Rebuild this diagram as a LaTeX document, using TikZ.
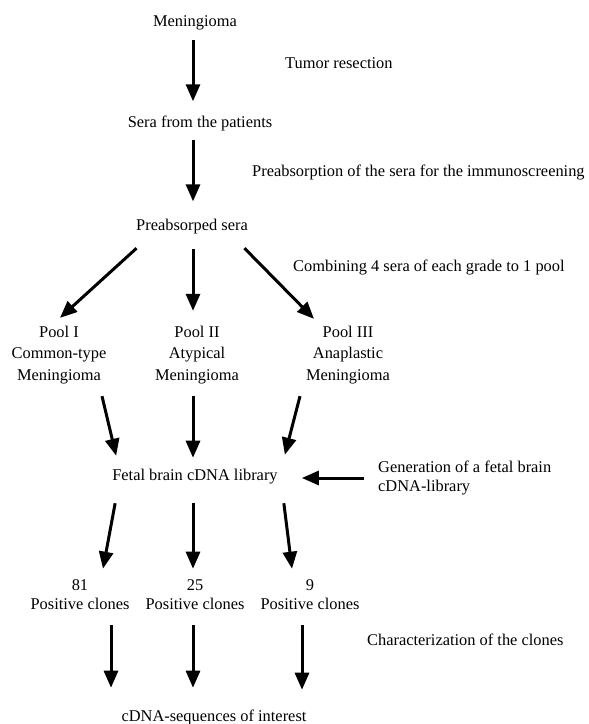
\documentclass[tikz,border=0pt]{standalone}
\usepackage{fontspec}
\setmainfont{Liberation Serif}
\usetikzlibrary{arrows.meta, positioning}

\begin{document}
\begin{tikzpicture}[x=1pt, y=-1pt,
        txt/.style={inner sep=0pt, font=\fontsize{16.4}{19}\selectfont},
        pool/.style={txt, align=center, font=\fontsize{16.4}{21.5}\selectfont},
        clone/.style={txt, align=center},
        note/.style={txt, anchor=west, align=left},
        arr/.style={-{Triangle[length=17pt, width=14pt]}, line width=3pt}
    ]
        \useasboundingbox (0,0) rectangle (589,724);
        \coordinate (mid) at (193,0);

        % main column
        \node[txt] (men) at (195,23) {Meningioma};
        \node[txt] (sera) at (200,123) {Sera from the patients};
        \node[txt] (psera) at (192,227) {Preabsorped sera};
        \node[pool] (pool1) at (59,355) {Pool I\\Common-type\\Meningioma};
        \node[pool] (pool2) at (197,355) {Pool II\\Atypical\\Meningioma};
        \node[pool] (pool3) at (348,355) {Pool III\\Anaplastic\\Meningioma};
        \node[txt] (lib) at (195,477) {Fetal brain cDNA library};
        \node[clone] (cl1) at (80,594.5) {81\\Positive clones};
        \node[clone] (cl2) at (195,594.5) {25\\Positive clones};
        \node[clone] (cl3) at (310,594.5) {9\\Positive clones};
        \node[txt] (cdna) at (214,717) {cDNA-sequences of interest};

        % steps on the right
        \node[note] (tumor) at (285,63) {Tumor resection};
        \node[note] (preab) at (252,172) {Preabsorption of the sera for the immunoscreening};
        \node[note] (comb) at (293,267) {Combining 4 sera of each grade to 1 pool};
        \node[note] (gen) at (378,478) {Generation of a fetal brain\\cDNA-library};
        \node[note] (char) at (367,640) {Characterization of the clones};

        \draw[arr, shorten <=10pt, shorten >=14pt] (men.south -| mid) -- (sera.north -| mid);
        \draw[arr, shorten <=9pt, shorten >=18pt] (sera.south -| mid) -- (psera.north -| mid);

        \draw[arr] ([shift={(0.5,13.6)}]psera.south west) -- ([shift={(1,-8)}]pool1.north);
        \draw[arr, shorten <=14pt, shorten >=15pt] (psera.south -| mid) -- (pool2.north -| mid);
        \draw[arr] ([shift={(-3.5,13.6)}]psera.south east) -- ([shift={(-34,-7)}]pool3.north);

        \draw[arr] ([shift={(43,12)}]pool1.south) -- ([shift={(4,-13.6)}]lib.north west);
        \draw[arr, shorten <=12pt, shorten >=11.6pt] (pool2.south -| mid) -- (lib.north -| mid);
        \draw[arr] ([shift={(-48,12)}]pool3.south) -- ([shift={(7,-14.6)}]lib.north east);
        \draw[arr] ([shift={(-14,0)}]gen.west) -- ([shift={(24,1)}]lib.east);

        \draw[arr] ([shift={(3,18.6)}]lib.south west) -- ([shift={(23,-10.6)}]cl1.north);
        \draw[arr, shorten <=18.6pt, shorten >=10.6pt] (lib.south -| mid) -- (cl2.north -| mid);
        \draw[arr] ([shift={(6,18.6)}]lib.south east) -- ([shift={(-18,-10.6)}]cl3.north);

        \draw[arr] ([shift={(31,15.6)}]cl1.south) -- ([shift={(-103,-21.6)}]cdna.north);
        \draw[arr, shorten <=15.6pt, shorten >=21.6pt] (cl2.south -| mid) -- (cdna.north -| mid);
        \draw[arr] ([shift={(-8,15.6)}]cl3.south) -- ([shift={(88,-19.6)}]cdna.north);
    \end{tikzpicture}
\end{document}
